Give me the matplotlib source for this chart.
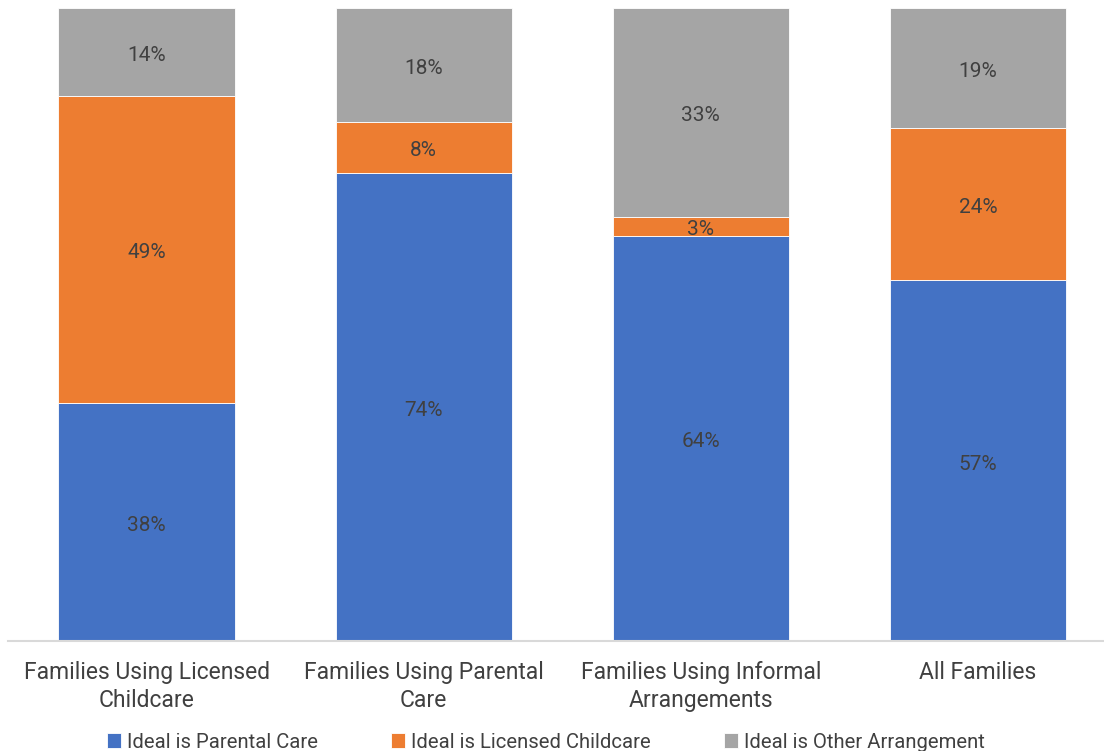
import numpy as np
import matplotlib.pyplot as plt

plt.rcParams['font.family'] = ['Roboto', 'DejaVu Sans']

groups = ["Families Using Licensed\nChildcare", "Families Using Parental\nCare",
          "Families Using Informal\nArrangements", "All Families"]
parental = [38, 74, 64, 57]
licensed = [49, 8, 3, 24]
other = [14, 18, 33, 19]

series = [("Ideal is Parental Care", parental, "#4472C4"),
          ("Ideal is Licensed Childcare", licensed, "#ED7D31"),
          ("Ideal is Other Arrangement", other, "#A5A5A5")]

# 100% stacked: each column is scaled to its own total
totals = np.array(parental, float) + np.array(licensed, float) + np.array(other, float)

fig = plt.figure(figsize=(11.04, 7.51), dpi=100)
ax = fig.add_axes([8 / 1104, 110 / 751, 1108.5 / 1104, 633 / 751])

x = np.arange(len(groups))
bottom = np.zeros(len(groups))
for name, vals, col in series:
    vals = np.array(vals, dtype=float)
    share = vals / totals * 100
    ax.bar(x, share, 0.636, bottom=bottom, color=col, label=name,
           edgecolor='white', linewidth=0.6)
    for xi, b, s, v in zip(x, bottom, share, vals):
        ax.annotate(f"{v:.0f}%", (xi, b + s / 2), xytext=(0, -2.5),
                    textcoords='offset points', ha='center', va='center',
                    fontsize=15, color='#404040')
    bottom += share

ax.set_xlim(-0.5, 3.5)
ax.set_ylim(0, 100)
ax.set_yticks([])
ax.set_xticks(x)
ax.set_xticklabels(groups, fontsize=16.5, color='#404040', linespacing=1.25)
ax.tick_params(axis='x', length=0, pad=14.5)
for s in ['top', 'right', 'left']:
    ax.spines[s].set_visible(False)
ax.spines['bottom'].set_color('#D9D9D9')
ax.spines['bottom'].set_linewidth(1.5)

fig.legend(loc='lower center', bbox_to_anchor=(0.4945, -0.025), ncol=3,
           frameon=False, fontsize=14.6, handlelength=0.7, handleheight=0.7,
           handletextpad=0.3, columnspacing=3.6, labelcolor='#404040')

fig.savefig("out.png", dpi=100)
